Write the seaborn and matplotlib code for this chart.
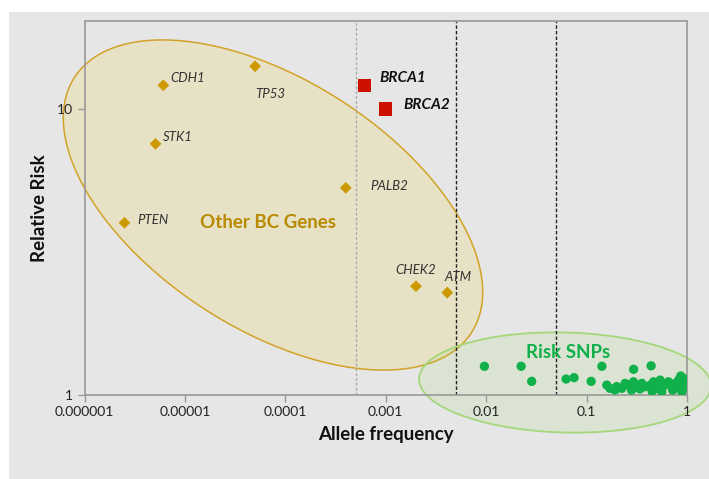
import numpy as np
import pandas as pd
import matplotlib
matplotlib.use("Agg")
import matplotlib.pyplot as plt
import matplotlib.ticker as mticker
from matplotlib.patches import Rectangle, Polygon
import seaborn as sns

# other breast-cancer genes
gene_names = ["PTEN", "STK1", "CDH1", "TP53", "PALB2", "CHEK2", "ATM"]
gene_freq = [2.5e-6, 5.1e-6, 6.1e-6, 5.0e-5, 4.0e-4, 2.0e-3, 4.1e-3]
gene_rr = [4.0, 7.55, 12.1, 14.1, 5.3, 2.4, 2.28]

brca_names = ["BRCA1", "BRCA2"]
brca_freq = [6.1e-4, 1.0e-3]
brca_rr = [12.1, 10.0]

# risk SNPs
snp_freq = [0.0096, 0.0223, 0.0284, 0.0625, 0.075, 0.111, 0.142, 0.294, 0.439,
            0.159, 0.171, 0.192, 0.20, 0.224, 0.242, 0.261, 0.28, 0.293, 0.316,
            0.34, 0.355, 0.383, 0.43, 0.45, 0.464, 0.50, 0.54, 0.561, 0.58,
            0.605, 0.653, 0.706, 0.72, 0.762, 0.80, 0.823, 0.867, 0.887, 0.90,
            0.92, 0.942, 0.95]
snp_rr = [1.26, 1.26, 1.116, 1.137, 1.15, 1.116, 1.26, 1.23, 1.265,
          1.083, 1.055, 1.041, 1.07, 1.055, 1.098, 1.083, 1.04, 1.112, 1.069,
          1.05, 1.098, 1.069, 1.083, 1.03, 1.112, 1.055, 1.127, 1.027, 1.09,
          1.083, 1.112, 1.069, 1.04, 1.098, 1.06, 1.127, 1.165, 1.027, 1.12,
          1.098, 1.14, 1.069]

xticks = [1e-6, 1e-5, 1e-4, 1e-3, 1e-2, 1e-1, 1]
xtick_labels = ["0.000001", "0.00001", "0.0001", "0.001", "0.01", "0.1", "1"]

genes = pd.DataFrame({"freq": gene_freq, "rr": gene_rr, "name": gene_names})
brca = pd.DataFrame({"freq": brca_freq, "rr": brca_rr, "name": brca_names})
snps = pd.DataFrame({"freq": snp_freq, "rr": snp_rr})

sns.set_style("white")
plt.rcParams["font.family"] = ["Lato", "DejaVu Sans"]

W, H = 709, 479
fig = plt.figure(figsize=(W / 100, H / 100), dpi=100, facecolor="#e6e6e6")
# white margin at the left and top of the grey panel
fig.patches.append(Rectangle((0, 0), 9 / W, 1, transform=fig.transFigure,
                             facecolor="white", edgecolor="none", zorder=-10))
fig.patches.append(Rectangle((0, (H - 12) / H), 1, 12 / H, transform=fig.transFigure,
                             facecolor="white", edgecolor="none", zorder=-10))
ax = fig.add_axes([84.5 / W, (H - 395) / H, (687 - 84.5) / W, (395 - 21) / H])
ax.set_facecolor("#e6e6e6")
ax.set_axisbelow(False)
ax.set_xscale("log")
ax.set_yscale("log")
ax.set_xlim(1e-6, 1)
ax.set_ylim(1, 20.3)


def ellipse(cx, cy, a, b, deg, **kw):
    # ellipse given in image pixels (y down), converted to data coords
    t = np.linspace(0, 2 * np.pi, 200)
    th = np.radians(deg)
    px = cx + a * np.cos(t) * np.cos(th) - b * np.sin(t) * np.sin(th)
    py = cy + a * np.cos(t) * np.sin(th) + b * np.sin(t) * np.cos(th)
    pts = ax.transData.inverted().transform(np.column_stack([px, H - py]))
    ax.add_patch(Polygon(pts, closed=True, clip_on=False, **kw))


ellipse(273, 205, 236, 124.6, 32.7, facecolor="#e7e1c6", edgecolor="#d2a328", lw=1.1, zorder=1)
ellipse(565, 382.5, 146, 50, 1.5, facecolor="#92d050", alpha=0.13, edgecolor="none", zorder=1.1)
ellipse(565, 382.5, 146, 50, 1.5, facecolor="none", edgecolor="#a3d77a", lw=1.3, zorder=1.1)

ax.axvline(0.0005, color="#aaaaaa", ls=(0, (2, 1.5)), lw=1, zorder=2)
ax.axvline(0.005, color="#222222", ls=(0, (2.5, 1.5)), lw=1, zorder=2)
ax.axvline(0.05, color="#222222", ls=(0, (2.5, 1.5)), lw=1, zorder=2)

sns.scatterplot(data=genes, x="freq", y="rr", marker="D", s=36, color="#cc9900",
                edgecolor="none", ax=ax, zorder=3)
sns.scatterplot(data=brca, x="freq", y="rr", marker="s", s=90, color="#cc1100",
                edgecolor="none", ax=ax, zorder=3)
sns.scatterplot(data=snps, x="freq", y="rr", marker="o", s=45, color="#10b04a",
                edgecolor="none", ax=ax, zorder=3)

offsets = {"CDH1": (5, 5), "TP53": (0, -20), "STK1": (5, 5), "PTEN": (9, 2),
           "PALB2": (18, 1), "CHEK2": (-15, 12), "ATM": (-2, 11)}
for _, r in genes.iterrows():
    ax.annotate(r["name"], (r["freq"], r["rr"]), xytext=offsets[r["name"]],
                textcoords="offset points", ha="left", va="center",
                fontsize=9.5, style="italic", color="#333333", zorder=4)
for (_, r), off in zip(brca.iterrows(), [(11, 5), (13, 3)]):
    ax.annotate(r["name"], (r["freq"], r["rr"]), xytext=off,
                textcoords="offset points", ha="left", va="center",
                fontsize=11, style="italic", weight="bold", color="#111111", zorder=4)

ax.text(6.7e-5, 4.0, "Other BC Genes", ha="center", va="center", fontsize=13.5,
        weight="bold", color="#b88a00", zorder=4)
ax.text(0.0655, 1.41, "Risk SNPs", ha="center", va="center", fontsize=13.5,
        weight="bold", color="#10b04a", zorder=4)

ax.set_xticks(xticks)
ax.set_xticklabels(xtick_labels)
ax.xaxis.set_minor_locator(mticker.NullLocator())
ax.yaxis.set_major_locator(mticker.FixedLocator([1, 10]))
ax.yaxis.set_major_formatter(mticker.FixedFormatter(["1", "10"]))
ax.yaxis.set_minor_locator(mticker.LogLocator(base=10, subs=np.arange(2, 10)))
ax.yaxis.set_minor_formatter(mticker.NullFormatter())
ax.tick_params(axis="both", which="major", direction="out", length=5, width=1,
               color="#999999", labelsize=10, labelcolor="#222222", pad=3)
ax.tick_params(axis="y", which="minor", direction="out", length=4, width=1, color="#999999")
ax.tick_params(left=True, bottom=True)
for sp in ax.spines.values():
    sp.set_visible(True)
    sp.set_color("#999999")
    sp.set_linewidth(1.2)

ax.set_xlabel("Allele frequency", fontsize=13.5, weight="bold", color="#111111", labelpad=6)
ax.set_ylabel("Relative Risk", fontsize=13.5, weight="bold", color="#111111", labelpad=7)

fig.savefig("out.png", dpi=100, facecolor=fig.get_facecolor())
